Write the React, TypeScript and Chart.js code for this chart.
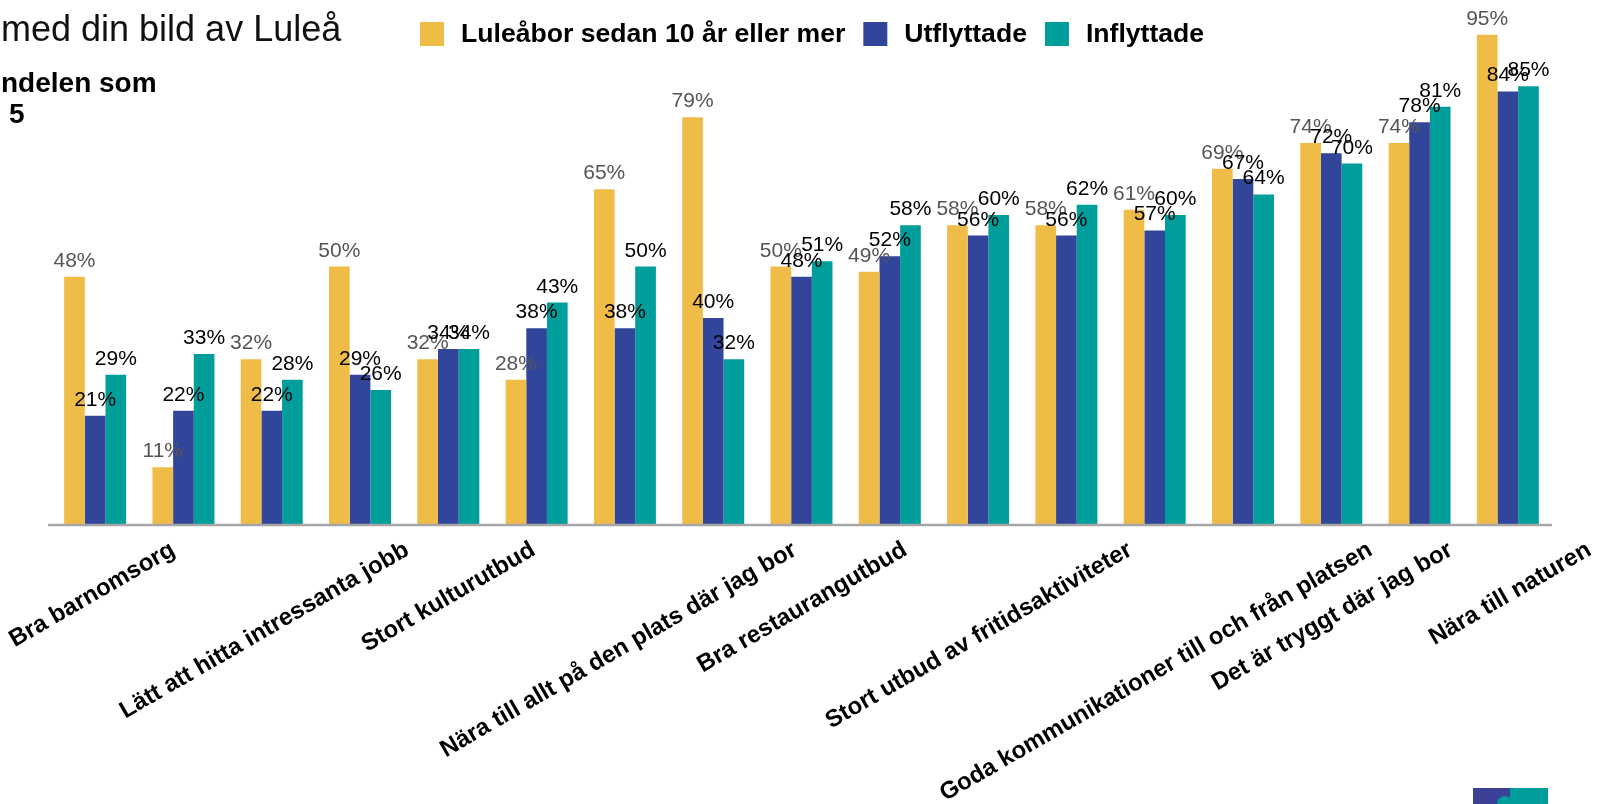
import React, { useEffect, useRef } from "react";
import { Chart, registerables } from "chart.js";

Chart.register(...registerables);

const FONT = '"Liberation Sans", Arial, Helvetica, sans-serif';

// ---- data ----
const categories = [
  "Bra barnomsorg", "", "", "Lätt att hitta intressanta jobb", "", "Stort kulturutbud", "", "",
  "Nära till allt på den plats där jag bor", "Bra restaurangutbud", "", "",
  "Stort utbud av fritidsaktiviteter", "", "Goda kommunikationer till och från platsen",
  "Det är tryggt där jag bor", "Nära till naturen",
];
const seriesNames = ["Luleåbor sedan 10 år eller mer", "Utflyttade", "Inflyttade"];
const luleabor = [48, 11, 32, 50, 32, 28, 65, 79, 50, 49, 58, 58, 61, 69, 74, 74, 95];
const utflyttade = [21, 22, 22, 29, 34, 38, 38, 40, 48, 52, 56, 56, 57, 67, 72, 78, 84];
const inflyttade = [29, 33, 28, 26, 34, 43, 50, 32, 51, 58, 60, 62, 60, 64, 70, 81, 85];

// axis texts as shown in the picture, and where they sit (in category units)
const axisLabels = [
  "Bra barnomsorg",
  "Lätt att hitta intressanta jobb",
  "Stort kulturutbud",
  "Nära till allt på den plats där jag bor",
  "Bra restaurangutbud",
  "Stort utbud av fritidsaktiviteter",
  "Goda kommunikationer till och från platsen",
  "Det är tryggt där jag bor",
  "Nära till naturen",
];
const axisLabelAt = [0.92, 3.57, 5.0, 7.96, 9.21, 11.76, 14.48, 15.39, 16.96];

const titleText = "med din bild av Luleå";
const subtitleLines = ["ndelen som", "5"];

// ---- styles ----
const colors = ["#F0BC48", "#31469B", "#009E9A"];
const valueLabelColors = ["#555555", "#000000", "#000000"];

const overlayPlugin = {
  id: "overlay",
  afterDraw(chart: any) {
    const { ctx, chartArea, scales } = chart;
    ctx.save();

    // axis line
    ctx.strokeStyle = "#a6a6a6";
    ctx.lineWidth = 2.5;
    ctx.beginPath();
    ctx.moveTo(chartArea.left - 3, chartArea.bottom + 1);
    ctx.lineTo(chartArea.right, chartArea.bottom + 1);
    ctx.stroke();

    // value labels
    ctx.textAlign = "center";
    ctx.textBaseline = "alphabetic";
    ctx.font = `21px ${FONT}`;
    chart.data.datasets.forEach((ds: any, di: number) => {
      const meta = chart.getDatasetMeta(di);
      ctx.fillStyle = valueLabelColors[di];
      meta.data.forEach((el: any, i: number) => {
        ctx.fillText(ds.data[i] + "%", el.x, el.y - 10);
      });
    });

    // rotated category labels
    ctx.font = `bold 24px ${FONT}`;
    ctx.fillStyle = "#000";
    ctx.textAlign = "right";
    axisLabels.forEach((t, i) => {
      const x = scales.x.getPixelForValue(axisLabelAt[i]);
      ctx.save();
      ctx.translate(x, chartArea.bottom + 30);
      ctx.rotate((-30 * Math.PI) / 180);
      ctx.fillText(t, 0, 0);
      ctx.restore();
    });

    // title & subtitle
    ctx.textAlign = "left";
    ctx.fillStyle = "#111";
    ctx.font = `36px ${FONT}`;
    ctx.fillText(titleText, 1, 41);
    ctx.font = `bold 28px ${FONT}`;
    ctx.fillStyle = "#000";
    ctx.fillText(subtitleLines[0], 1, 92);
    ctx.fillText(subtitleLines[1], 9, 123);

    // legend
    ctx.font = `bold 26.6px ${FONT}`;
    ctx.textBaseline = "middle";
    let lx = 420;
    seriesNames.forEach((name, i) => {
      ctx.fillStyle = colors[i];
      ctx.fillRect(lx, 22, 24, 24);
      ctx.fillStyle = "#000";
      ctx.fillText(name, lx + 41, 35);
      lx += 41 + ctx.measureText(name).width + 18;
    });

    // small logo at bottom right
    ctx.fillStyle = "#3a4197";
    ctx.fillRect(1473, 788, 37, 16);
    ctx.fillStyle = "#009E9A";
    ctx.fillRect(1510, 788, 38, 16);
    ctx.beginPath();
    ctx.arc(1505, 804, 8, Math.PI, 2 * Math.PI);
    ctx.fill();

    ctx.restore();
  },
};

export default function App() {
  const ref = useRef<HTMLCanvasElement | null>(null);

  useEffect(() => {
    document.body.style.margin = "0";
    if (!ref.current) return;
    const chart = new Chart(ref.current, {
      type: "bar",
      data: {
        labels: categories,
        datasets: [luleabor, utflyttade, inflyttade].map((d, i) => ({
          label: seriesNames[i],
          data: d,
          backgroundColor: colors[i],
          borderWidth: 0,
          barPercentage: 1,
          categoryPercentage: 0.702,
        })),
      },
      options: {
        animation: false,
        responsive: true,
        maintainAspectRatio: false,
        events: [],
        layout: { padding: { left: 51, right: 46, top: 9, bottom: 280 } },
        plugins: {
          legend: { display: false },
          title: { display: false },
          tooltip: { enabled: false },
        },
        scales: {
          x: { display: false },
          y: { display: false, min: 0, max: 100 },
        },
      },
      plugins: [overlayPlugin],
    });
    return () => chart.destroy();
  }, []);

  return (
    <div style={{ width: 1598, height: 804, position: "relative", background: "#fff" }}>
      <canvas ref={ref} />
    </div>
  );
}
